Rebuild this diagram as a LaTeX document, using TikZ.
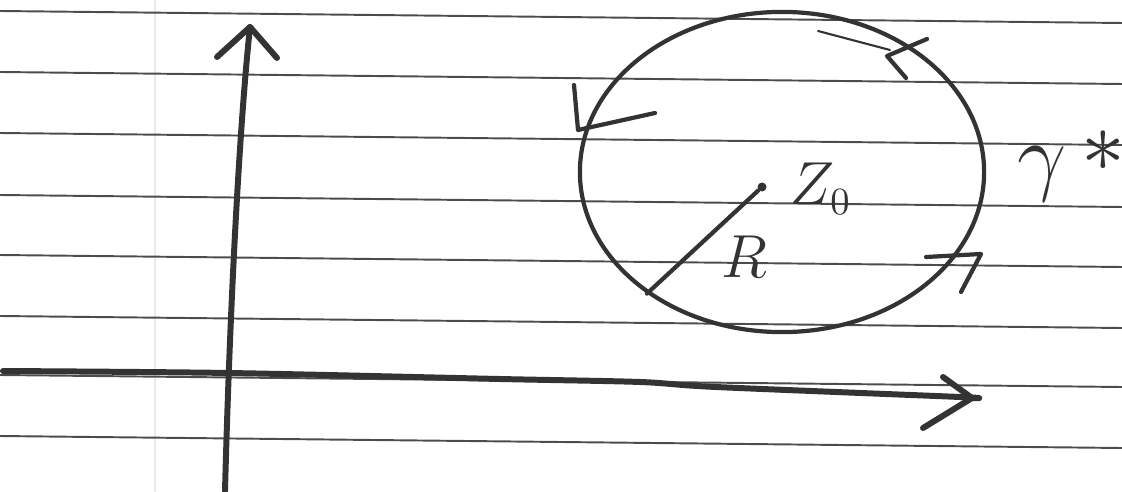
\documentclass[tikz,border=0pt]{standalone}
\usepackage{amsmath,amssymb}
\usetikzlibrary{shapes.geometric}
\begin{document}
\begin{tikzpicture}[x=0.01cm, y=-0.01cm, line cap=round, line join=round]
\tikzstyle{rule}=[draw=black!70, line width=0.55pt]
\tikzstyle{axis}=[draw=black!80, line width=1.7pt]
\tikzstyle{pen}=[draw=black!80, line width=1.2pt]
\tikzstyle{hand}=[inner sep=0pt, text=black!80, font=\fontsize{16}{16}\selectfont]
\useasboundingbox (0,0) rectangle (1122,491);
% ruled paper
\draw[black!8, line width=0.5pt] (155,0) -- (155,491);
\foreach \y in {11,72,133,195,255,316,375,436}
  \draw[rule] (0,\y) -- (1122,\y+12);
% axes
\coordinate (ybot) at (225,491);
\coordinate (ytop) at (250,27);
\draw[axis] (ybot) .. controls (230,300) and (240,120) .. (ytop);
\draw[axis] (217,57) -- (ytop) -- (277,58);
\coordinate (xleft) at (3,371);
\coordinate (xtip) at (972,398);
\draw[axis] plot[smooth] coordinates {(xleft) (229,373) (500,379) (640,382) (716,387) (960,397) (xtip)};
\draw[axis] (943,377) -- (xtip) -- (923,428);
% the circle gamma*
\node[pen, ellipse, minimum width=4.04cm, minimum height=3.2cm, inner sep=0pt] (gam) at (782,172) {};
\draw[pen] (574,85) -- (578,130) -- (655,113);
\draw[black!80, line width=0.6pt] (818,31) -- (890,50);
\draw[pen] (927,39) -- (887,56) -- (906,78);
\draw[pen] (926,257) -- (981,254) -- (961,292);
% centre and radius
\node[circle, fill=black!80, inner sep=0pt, minimum size=0.09cm] (ctr) at (762,187) {};
\draw[pen] (ctr) -- (gam.222);
\node[hand, anchor=base west] (zlbl) at (789,205) {$Z_0$};
\node[hand, anchor=base west] (rlbl) at (721,277) {$R$};
\node[hand, anchor=base west, font=\fontsize{36}{36}\selectfont] (glbl) at (1017,184) {$\gamma\,\raisebox{0.1em}{$\scriptstyle\ast$}$};
\end{tikzpicture}
\end{document}
